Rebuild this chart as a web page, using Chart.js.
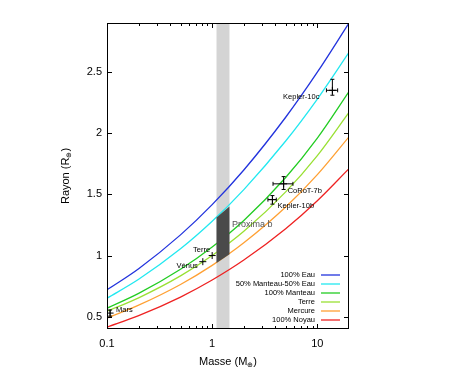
<!DOCTYPE html>
<html>
<head>
<meta charset="utf-8">
<script src="https://cdn.jsdelivr.net/npm/chart.js@4.4.0/dist/chart.umd.min.js"></script>
<style>body{margin:0;background:#fff}</style>
</head>
<body>
<canvas id="mrChart" width="460" height="378"></canvas>
<script>
// mass-radius curves, radius at these masses
const curveMasses = [0.1, 0.2, 0.5, 1, 2, 5, 10, 20];
const curveNames = ['100% Eau', '50% Manteau-50% Eau', '100% Manteau', 'Terre', 'Mercure', '100% Noyau'];
const eau = [0.72, 0.893, 1.169, 1.416, 1.699, 2.13, 2.498, 2.9];
const manteauEau = [0.651, 0.806, 1.055, 1.28, 1.539, 1.936, 2.279, 2.66];
const manteau = [0.57, 0.691, 0.888, 1.07, 1.287, 1.638, 1.96, 2.34];
const terre = [0.545, 0.655, 0.834, 1.0, 1.198, 1.52, 1.817, 2.17];
const mercure = [0.49, 0.595, 0.764, 0.92, 1.104, 1.396, 1.661, 1.97];
const noyau = [0.415, 0.509, 0.661, 0.8, 0.963, 1.219, 1.448, 1.71];
const curveColors = ['#2233dd', '#22e8f0', '#22cc22', '#99e033', '#ffa033', '#ee2222'];

// planets
const planetNames = ['Mars', 'Vénus', 'Terre', 'Kepler-10b', 'CoRoT-7b', 'Kepler-10c'];
const planetMass = [0.107, 0.815, 1.0, 3.74, 4.78, 13.9];
const planetRadius = [0.53, 0.95, 1.0, 1.457, 1.586, 2.35];
const massLow = [null, null, null, 3.39, 3.79, 12.2];
const massHigh = [null, null, null, 4.07, 5.86, 15.6];
const radiusLow = [0.505, null, null, 1.42, 1.54, 2.31];
const radiusHigh = [0.555, null, null, 1.49, 1.645, 2.44];

// Proxima b
const bandMass = [1.1, 1.46];
const proximaMass = [1.1, 1.46];
const proximaTop = [1.31, 1.40];
const proximaBottom = [0.94, 1.01];
const proximaLabel = {text: 'Proxima b', mass: 1.54, radius: 1.25};

// axes
const xTicks = [0.1, 1, 10];
const xMinorTicks = [0.2, 0.3, 0.4, 0.5, 0.6, 0.7, 0.8, 0.9, 2, 3, 4, 5, 6, 7, 8, 9];
const yTicks = [0.5, 1, 1.5, 2, 2.5];

// label placement relative to the point (pixels)
const labelPlace = {
  'Mars': [6, -3, 'left'],
  'Vénus': [-5, 4, 'right'],
  'Terre': [-2, -6, 'right'],
  'Kepler-10b': [5, 6, 'left'],
  'CoRoT-7b': [4, 7, 'left'],
  'Kepler-10c': [-13, 7, 'right']
};

const FONT = '"Liberation Sans", Arial, sans-serif';
const curves = [eau, manteauEau, manteau, terre, mercure, noyau];

function drawSub(ctx, main, sub, tail, x, y) {
  // draws "main" + subscript + "tail" centred on x
  ctx.font = '11px ' + FONT;
  const w1 = ctx.measureText(main).width;
  const w3 = ctx.measureText(tail).width;
  ctx.font = '7px ' + FONT;
  const w2 = ctx.measureText(sub).width;
  let cx = x - (w1 + w2 + w3) / 2;
  ctx.textAlign = 'left';
  ctx.textBaseline = 'middle';
  ctx.font = '11px ' + FONT;
  ctx.fillText(main, cx, y);
  cx += w1;
  ctx.font = '7px ' + FONT;
  ctx.fillText(sub, cx, y + 3);
  cx += w2;
  ctx.font = '11px ' + FONT;
  ctx.fillText(tail, cx, y);
}

const overlay = {
  id: 'overlay',
  beforeDatasetsDraw(chart) {
    const {ctx, chartArea: a, scales: {x}} = chart;
    const x0 = x.getPixelForValue(bandMass[0]);
    const x1 = x.getPixelForValue(bandMass[1]);
    ctx.save();
    ctx.fillStyle = '#d4d4d4';
    ctx.fillRect(x0, a.top, x1 - x0, a.bottom - a.top);
    ctx.restore();
  },
  afterDatasetsDraw(chart) {
    const {ctx, chartArea: a, scales: {x, y}} = chart;
    ctx.save();

    // dark zone for Proxima b
    ctx.fillStyle = '#4a4a4a';
    ctx.beginPath();
    proximaMass.forEach((m, i) => {
      const px = x.getPixelForValue(m), py = y.getPixelForValue(proximaTop[i]);
      i ? ctx.lineTo(px, py) : ctx.moveTo(px, py);
    });
    for (let i = proximaMass.length - 1; i >= 0; i--) {
      ctx.lineTo(x.getPixelForValue(proximaMass[i]), y.getPixelForValue(proximaBottom[i]));
    }
    ctx.closePath();
    ctx.fill();

    ctx.fillStyle = '#555';
    ctx.font = '9px ' + FONT;
    ctx.textAlign = 'left';
    ctx.textBaseline = 'middle';
    ctx.fillText(proximaLabel.text, x.getPixelForValue(proximaLabel.mass), y.getPixelForValue(proximaLabel.radius));

    // error bars
    ctx.strokeStyle = '#000';
    ctx.lineWidth = 1;
    const cap = 2;
    planetNames.forEach((n, i) => {
      const px = x.getPixelForValue(planetMass[i]);
      const py = y.getPixelForValue(planetRadius[i]);
      ctx.beginPath();
      if (massLow[i] !== null) {
        const xl = x.getPixelForValue(massLow[i]), xh = x.getPixelForValue(massHigh[i]);
        ctx.moveTo(xl, py); ctx.lineTo(xh, py);
        ctx.moveTo(xl, py - cap); ctx.lineTo(xl, py + cap);
        ctx.moveTo(xh, py - cap); ctx.lineTo(xh, py + cap);
      }
      if (radiusLow[i] !== null) {
        const yl = y.getPixelForValue(radiusLow[i]), yh = y.getPixelForValue(radiusHigh[i]);
        ctx.moveTo(px, yl); ctx.lineTo(px, yh);
        ctx.moveTo(px - cap, yl); ctx.lineTo(px + cap, yl);
        ctx.moveTo(px - cap, yh); ctx.lineTo(px + cap, yh);
      }
      ctx.stroke();

      const p = labelPlace[n];
      ctx.fillStyle = '#000';
      ctx.font = '7.5px ' + FONT;
      ctx.textAlign = p[2];
      ctx.fillText(n, px + p[0], py + p[1]);
    });

    // frame
    ctx.strokeStyle = '#000';
    ctx.lineWidth = 1;
    ctx.strokeRect(a.left + 0.5, a.top + 0.5, a.right - a.left - 1, a.bottom - a.top - 1);

    // inward ticks, mirrored
    ctx.beginPath();
    xTicks.forEach(v => {
      const px = Math.round(x.getPixelForValue(v)) + 0.5;
      ctx.moveTo(px, a.bottom); ctx.lineTo(px, a.bottom - 5);
      ctx.moveTo(px, a.top); ctx.lineTo(px, a.top + 5);
    });
    xMinorTicks.forEach(v => {
      const px = Math.round(x.getPixelForValue(v)) + 0.5;
      ctx.moveTo(px, a.bottom); ctx.lineTo(px, a.bottom - 3);
      ctx.moveTo(px, a.top); ctx.lineTo(px, a.top + 3);
    });
    yTicks.forEach(v => {
      const py = Math.round(y.getPixelForValue(v)) + 0.5;
      ctx.moveTo(a.left, py); ctx.lineTo(a.left + 5, py);
      ctx.moveTo(a.right, py); ctx.lineTo(a.right - 5, py);
    });
    ctx.stroke();

    // legend
    ctx.font = '7.5px ' + FONT;
    ctx.textAlign = 'right';
    ctx.textBaseline = 'middle';
    curveNames.forEach((name, i) => {
      const ly = a.bottom - 54 + i * 9;
      ctx.fillStyle = '#000';
      ctx.fillText(name, a.right - 34, ly);
      ctx.strokeStyle = curveColors[i];
      ctx.lineWidth = 1.3;
      ctx.beginPath();
      ctx.moveTo(a.right - 28, ly);
      ctx.lineTo(a.right - 9, ly);
      ctx.stroke();
    });

    // axis titles
    ctx.fillStyle = '#000';
    drawSub(ctx, 'Masse (M', '⊕', ')', (a.left + a.right) / 2, 362);
    ctx.translate(66, (a.top + a.bottom) / 2);
    ctx.rotate(-Math.PI / 2);
    drawSub(ctx, 'Rayon (R', '⊕', ')', 0, 0);
    ctx.restore();
  }
};

const datasets = curves.map((vals, i) => ({
  label: curveNames[i],
  data: curveMasses.map((m, j) => ({x: m, y: vals[j]})),
  borderColor: curveColors[i],
  borderWidth: 1.3,
  pointRadius: 0,
  cubicInterpolationMode: 'monotone',
  fill: false,
  order: 1
}));
datasets.push({
  type: 'scatter',
  label: 'planètes',
  data: planetMass.map((m, i) => ({x: m, y: planetRadius[i]})),
  pointStyle: 'cross',
  pointRadius: 3.5,
  borderColor: '#000',
  borderWidth: 1,
  backgroundColor: '#000',
  order: 0
});

new Chart(document.getElementById('mrChart').getContext('2d'), {
  type: 'line',
  data: {datasets: datasets},
  options: {
    responsive: false,
    animation: false,
    layout: {padding: {left: 0, right: 111, top: 23, bottom: 0}},
    plugins: {legend: {display: false}, tooltip: {enabled: false}},
    scales: {
      x: {
        type: 'logarithmic',
        min: 0.1,
        max: 20,
        afterBuildTicks: s => { s.ticks = xTicks.map(v => ({value: v})); },
        afterFit: s => { s.height = 49; },
        ticks: {
          color: '#000',
          font: {size: 11, family: FONT},
          padding: 8,
          maxRotation: 0,
          autoSkip: false,
          callback: v => String(v)
        },
        grid: {display: false, drawTicks: false},
        border: {display: false}
      },
      y: {
        min: 0.4,
        max: 2.9,
        afterBuildTicks: s => { s.ticks = yTicks.map(v => ({value: v})); },
        afterFit: s => { s.width = 107; },
        ticks: {
          color: '#000',
          font: {size: 11, family: FONT},
          padding: 5,
          callback: v => String(v)
        },
        grid: {display: false, drawTicks: false},
        border: {display: false}
      }
    }
  },
  plugins: [overlay]
});
</script>
</body>
</html>
